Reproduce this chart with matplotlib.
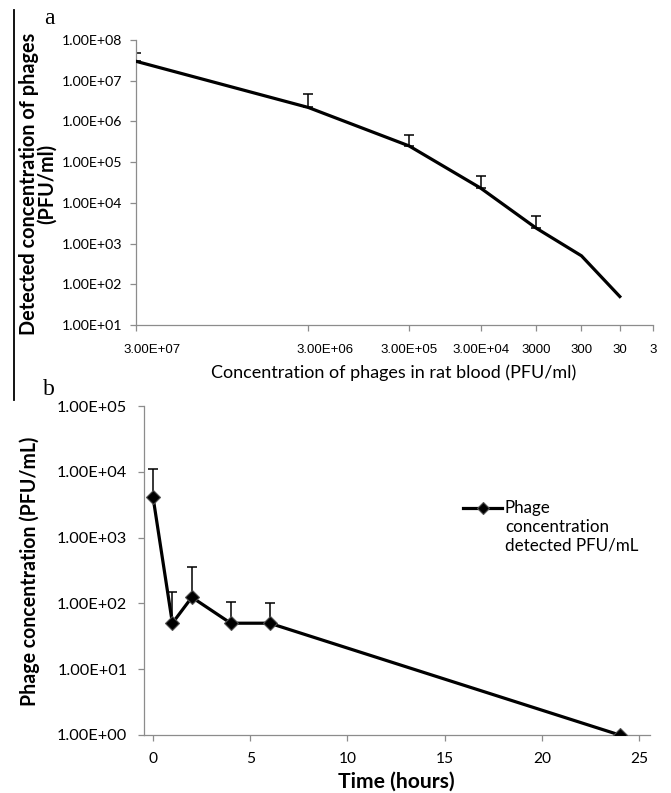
import numpy as np
import matplotlib
matplotlib.use("Agg")
import matplotlib.pyplot as plt
from matplotlib.ticker import FixedLocator, FuncFormatter, NullLocator
from matplotlib.lines import Line2D
import matplotlib.transforms as mtrans

# ---------------- data ----------------
# panel a
input_labels = ["3.00E+07", "3.00E+06", "3.00E+05", "3.00E+04", "3000", "300", "30", "3"]
detected = [3.0e7, 2.2e6, 2.5e5, 2.3e4, 2.4e3, 5.0e2, 5.0e1]
detected_upper = [4.8e7, 4.7e6, 4.7e5, 4.6e4, 4.7e3, np.nan, np.nan]

# panel b
time_h = [0, 1, 2, 4, 6, 24]
phage_conc = [4200, 50, 124, 50, 50, 1]
phage_upper = [1.1e4, 147, 360, 105, 100, np.nan]
legend_label = "Phage\nconcentration\ndetected PFU/mL"

# ---------------- style ----------------
W, H = 671, 793
GRAY = "#8c8c8c"
CAL = ["Lato", "DejaVu Sans"]
ARI = ["Liberation Sans", "DejaVu Sans"]

fig = plt.figure(figsize=(W / 100, H / 100), dpi=100)
fig.patch.set_facecolor("white")

def px_axes(l, t, r, b):
    return fig.add_axes([l / W, 1 - b / H, (r - l) / W, (b - t) / H])

sci = FuncFormatter(lambda v, p: f"{v:.2E}")

def style_axes(ax):
    for s in ("top", "right"):
        ax.spines[s].set_visible(False)
    for s in ("left", "bottom"):
        ax.spines[s].set_color(GRAY)
        ax.spines[s].set_linewidth(0.9)
    ax.tick_params(which="both", direction="out", color=GRAY, width=0.9, length=4)
    ax.xaxis.set_minor_locator(NullLocator())
    ax.yaxis.set_minor_locator(NullLocator())

# ---------------- panel a ----------------
ax1 = px_axes(136, 40, 653, 325)
style_axes(ax1)
pos_a = np.arange(1, len(input_labels) + 1)
det = np.array(detected)
up = np.array(detected_upper)
xa = pos_a[: len(det)]
ax1.plot(xa, det, color="black", lw=2.3, solid_joinstyle="miter", zorder=3)
m = ~np.isnan(up)
ax1.errorbar(xa[m], det[m], yerr=[np.zeros(m.sum()), up[m] - det[m]], fmt="none",
             ecolor="black", elinewidth=1.1, capsize=3.5, capthick=1.1, zorder=2)
ax1.set_xscale("log")
ax1.set_yscale("log")
ax1.set_xlim(1, 8)
ax1.set_ylim(10, 1e8)
ax1.xaxis.set_major_locator(FixedLocator(pos_a))
ax1.xaxis.set_minor_locator(NullLocator())
ax1.set_xticklabels(input_labels, fontfamily=ARI, fontsize=8.5)
ax1.yaxis.set_major_locator(FixedLocator([10.0 ** k for k in range(1, 9)]))
ax1.yaxis.set_minor_locator(NullLocator())
ax1.yaxis.set_major_formatter(sci)
ax1.tick_params(axis="x", pad=10)
ax1.tick_params(axis="y", pad=6)
for t in ax1.get_yticklabels():
    t.set_fontfamily(CAL)
    t.set_fontsize(10)
ax1.set_xlabel("Concentration of phages in rat blood (PFU/ml)", fontfamily=CAL,
               fontsize=12, va="center", ha="center")
ax1.xaxis.set_label_coords((394 - 136) / 517, (325 - 373) / 285)
ax1.set_ylabel("Detected concentration of phages\n(PFU/ml)", fontfamily=CAL,
               fontsize=12, fontweight="bold", va="center", ha="center",
               linespacing=0.85)
ax1.yaxis.set_label_coords((38 - 136) / 517, (325 - 184) / 285)

# ---------------- panel b ----------------
ax2 = px_axes(144, 406, 650, 735)
style_axes(ax2)
t_arr = np.array(time_h, dtype=float)
c_arr = np.array(phage_conc, dtype=float)
u_arr = np.array(phage_upper)
mb = ~np.isnan(u_arr)
ax2.errorbar(t_arr[mb], c_arr[mb], yerr=[np.zeros(mb.sum()), u_arr[mb] - c_arr[mb]],
             fmt="none", ecolor="black", elinewidth=1.1, capsize=3.5, capthick=1.1, zorder=2)
line_b, = ax2.plot(t_arr, c_arr, color="black", lw=2.3, marker="D", ms=6.8,
                   mfc="black", mec="#505050", mew=0.8, zorder=3, label=legend_label)
ax2.set_yscale("log")
ax2.set_xlim(-0.46, 25.56)
ax2.set_ylim(1, 1e5)
ax2.xaxis.set_major_locator(FixedLocator([0, 5, 10, 15, 20, 25]))
ax2.yaxis.set_major_locator(FixedLocator([10.0 ** k for k in range(0, 6)]))
ax2.yaxis.set_minor_locator(NullLocator())
ax2.yaxis.set_major_formatter(sci)
ax2.tick_params(axis="x", pad=8)
ax2.tick_params(axis="y", pad=8)
for t in ax2.get_yticklabels() + ax2.get_xticklabels():
    t.set_fontfamily(CAL)
    t.set_fontsize(11)
ax2.set_xlabel("Time (hours)", fontfamily=CAL, fontsize=12, fontweight="bold",
               va="center", ha="center")
ax2.xaxis.set_label_coords((396 - 144) / 506, (735 - 782) / 329)
ax2.set_ylabel("Phage concentration (PFU/mL)", fontfamily=CAL, fontsize=12,
               fontweight="bold", va="center", ha="center")
ax2.yaxis.set_label_coords((30 - 144) / 506, (735 - 571) / 329)

# legend (handle aligned with first text line, as in the original)
ly = 1 - 508 / H
fig.add_artist(Line2D([463 / W, 502 / W], [ly, ly], color="black", lw=2.3))
fig.add_artist(Line2D([482.5 / W], [ly], marker="D", ms=6, color="black",
                      mec="#505050", mew=0.8, ls="none"))
leg_txt = fig.text(505 / W, 1 - 500 / H, legend_label, fontfamily=CAL, fontsize=11,
                   va="top", ha="left", linespacing=1.2)

# panel letters and left rule
fig.text(49 / W, 1 - 18 / H, "a", fontfamily=["Liberation Serif"], fontsize=17,
         ha="center", va="center")
fig.text(49 / W, 1 - 389 / H, "b", fontfamily=["Liberation Serif"], fontsize=17,
         ha="center", va="center")
fig.add_artist(Line2D([14 / W, 14 / W], [1 - 10 / H, 1 - 400 / H], color="black", lw=1.3))

# ---------------- fit text sizes to the original's measured pixel extents ----------------
fig.canvas.draw()
r = fig.canvas.get_renderer()

def fit(text, target, dim="w"):
    bb = text.get_window_extent(r)
    cur = bb.width if dim == "w" else bb.height
    if cur > 0:
        text.set_fontsize(text.get_fontsize() * target / cur)

def fit_ticks(labels, ref_idx, target):
    bb = labels[ref_idx].get_window_extent(r)
    f = target / bb.width if bb.width > 0 else 1
    for t in labels:
        t.set_fontsize(t.get_fontsize() * f)

fit_ticks(ax1.get_yticklabels(), -1, 60)
fit_ticks(ax1.get_xticklabels(), 0, 57)
fit_ticks(ax2.get_yticklabels(), -1, 70)
fit_ticks(ax2.get_xticklabels(), -1, 18)
fit(ax1.xaxis.label, 365, "w")
fit(ax1.yaxis.label, 300, "h")
fit(ax2.yaxis.label, 268, "h")
fit(ax2.xaxis.label, 116, "w")
fit(leg_txt, 133, "w")

# first two category labels sit slightly right of their ticks in the original
xl = ax1.get_xticklabels()
for i, dx in ((0, 16), (1, 17)):
    xl[i].set_transform(xl[i].get_transform() +
                        mtrans.ScaledTranslation(dx / 100, 0, fig.dpi_scale_trans))

fig.savefig("out.png", dpi=100)
